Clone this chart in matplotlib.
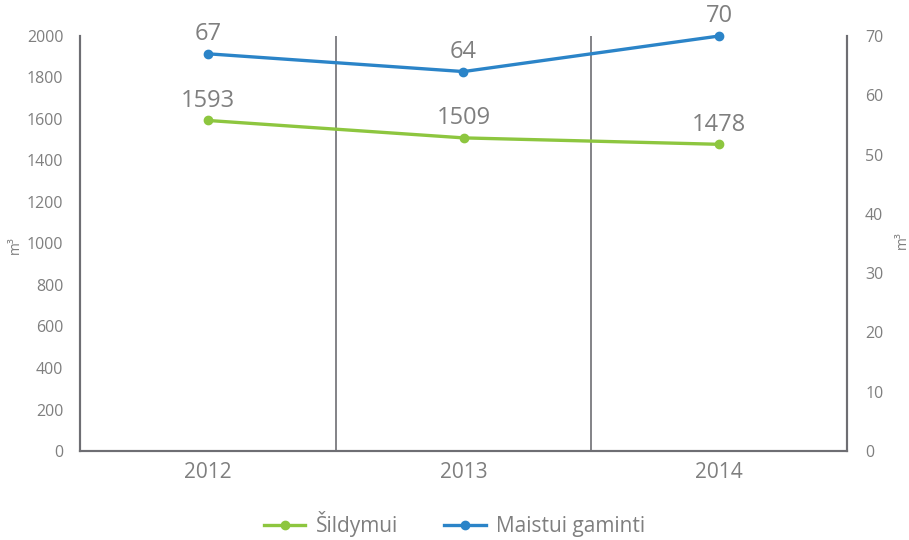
import matplotlib
matplotlib.use("Agg")
import matplotlib.pyplot as plt
from matplotlib.lines import Line2D

plt.rcParams['font.family'] = ['Open Sans', 'DejaVu Sans']

years = ["2012", "2013", "2014"]
sildymui = [1593, 1509, 1478]
maistui = [67, 64, 70]
left_ticks = [0, 200, 400, 600, 800, 1000, 1200, 1400, 1600, 1800, 2000]
right_ticks = [0, 10, 20, 30, 40, 50, 60, 70]

green = "#8DC63F"
blue = "#2B84C8"
gray_txt = "#7f7f7f"
axis_col = "#6e6e73"

fig = plt.figure(figsize=(9.09, 5.40), dpi=100)
ax = fig.add_axes([80/909, 1-451/540, (847-80)/909, (451-36)/540])
ax2 = ax.twinx()

x = list(range(len(years)))
ax.plot(x, sildymui, color=green, lw=2.4, marker='o', ms=6, zorder=3, clip_on=False)
ax2.plot(x, maistui, color=blue, lw=2.4, marker='o', ms=6, zorder=3, clip_on=False)

for xi, v in zip(x, sildymui):
    ax.annotate(str(v), (xi, v), xytext=(0, 5.5), textcoords='offset points',
                ha='center', va='bottom', fontsize=17, color=gray_txt)
for xi, v in zip(x, maistui):
    ax2.annotate(str(v), (xi, v), xytext=(0, 5.5), textcoords='offset points',
                 ha='center', va='bottom', fontsize=17, color=gray_txt, annotation_clip=False)

ax.set_xlim(-0.5, len(years) - 0.5)
ax.set_ylim(0, 2000)
ax2.set_ylim(0, 70)
ax.set_xticks(x)
ax.set_xticklabels(years)
ax.set_yticks(left_ticks)
ax2.set_yticks(right_ticks)

for a in (ax, ax2):
    a.spines['top'].set_visible(False)
    for s in ('left', 'right', 'bottom'):
        a.spines[s].set_color(axis_col)
        a.spines[s].set_linewidth(1.5)
    a.tick_params(length=0, colors=gray_txt)
ax.tick_params(axis='y', labelsize=11.5, pad=12)
ax2.tick_params(axis='y', labelsize=11.5, pad=13)
ax.tick_params(axis='x', labelsize=15, pad=8)

for b in [0.5, 1.5]:
    ax.axvline(b, color=axis_col, lw=1.2, zorder=1)

fig.text(15/909, 1-245/540, "m³", rotation=90, ha='center', va='center', fontsize=10, color=gray_txt)
fig.text(902/909, 1-240/540, "m³", rotation=90, ha='center', va='center', fontsize=10, color=gray_txt)

handles = [Line2D([], [], color=green, lw=2.4, marker='o', ms=6),
           Line2D([], [], color=blue, lw=2.4, marker='o', ms=6)]
fig.legend(handles, ["Šildymui", "Maistui gaminti"], loc='center', bbox_to_anchor=(0.5, 1-524/540),
           ncol=2, frameon=False, fontsize=15, labelcolor=gray_txt, handlelength=2.0,
           columnspacing=2.2, handletextpad=0.5)

fig.savefig("out.png", dpi=100)
